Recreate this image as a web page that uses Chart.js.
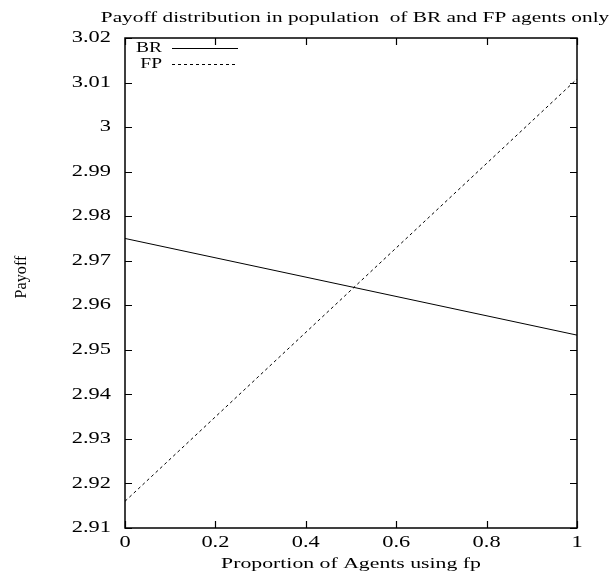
<!DOCTYPE html>
<html>
<head>
<meta charset="utf-8">
<script src="https://cdn.jsdelivr.net/npm/chart.js@4/dist/chart.umd.min.js"></script>
<style>
  html, body { margin: 0; padding: 0; background: #fff; }
  #wrap { width: 614px; height: 572px; position: relative; }
</style>
</head>
<body>
<div id="wrap"><canvas id="c" width="614" height="572"></canvas></div>
<script>
const chartTitle = 'Payoff distribution in population  of BR and FP agents only';
const xAxisTitle = 'Proportion of Agents using fp';
const yAxisTitle = 'Payoff';
const seriesNames = ['BR', 'FP'];
const xValues = [0, 1];
const brValues = [2.975, 2.9533];
const fpValues = [2.916, 3.0108];
const xTickValues = [0, 0.2, 0.4, 0.6, 0.8, 1];
const xTickLabels = ['0', '0.2', '0.4', '0.6', '0.8', '1'];
const yTickValues = [2.91, 2.92, 2.93, 2.94, 2.95, 2.96, 2.97, 2.98, 2.99, 3.00, 3.01, 3.02];
const yTickLabels = ['2.91', '2.92', '2.93', '2.94', '2.95', '2.96', '2.97', '2.98', '2.99', '3', '3.01', '3.02'];

const FONT = "'Liberation Serif'";
const SX = 1.4; // horizontal stretch of the reference's lettering
Chart.defaults.font.family = FONT;
Chart.defaults.color = '#000';

function labelFor(values, labels, v) {
  let best = 0, bd = Infinity;
  values.forEach((t, i) => { const d = Math.abs(t - v); if (d < bd) { bd = d; best = i; } });
  return labels[best];
}

function drawText(ctx, text, x, y, size, sx, align, rot) {
  ctx.save();
  ctx.translate(x, y);
  if (rot) ctx.rotate(rot);
  ctx.scale(sx, 1);
  ctx.font = size + 'px ' + FONT;
  ctx.textAlign = align || 'center';
  ctx.textBaseline = 'middle';
  ctx.fillStyle = '#000';
  ctx.fillText(text, 0, 0);
  ctx.restore();
}

const framePlugin = {
  id: 'frame',
  afterDatasetsDraw(chart) {
    const ctx = chart.ctx;
    const { left, right, top, bottom } = chart.chartArea;
    const xs = chart.scales.x, ys = chart.scales.y;
    ctx.save();
    ctx.strokeStyle = '#000';
    ctx.lineWidth = 1.5;
    ctx.strokeRect(left, top, right - left, bottom - top);
    ctx.lineWidth = 1.2;
    const tl = 7;
    ctx.beginPath();
    xs.ticks.forEach(t => {
      const px = Math.round(xs.getPixelForValue(t.value)) + 0.5;
      ctx.moveTo(px, bottom); ctx.lineTo(px, bottom - tl);
      ctx.moveTo(px, top); ctx.lineTo(px, top + tl);
    });
    ys.ticks.forEach(t => {
      const py = Math.round(ys.getPixelForValue(t.value)) + 0.5;
      ctx.moveTo(left, py); ctx.lineTo(left + tl, py);
      ctx.moveTo(right, py); ctx.lineTo(right - tl, py);
    });
    ctx.stroke();
    ctx.restore();

    // tick labels, placed by the scales
    xs.ticks.forEach(t => {
      drawText(ctx, labelFor(xTickValues, xTickLabels, t.value), xs.getPixelForValue(t.value), bottom + 15, 16, SX, 'center');
    });
    ys.ticks.forEach(t => {
      drawText(ctx, labelFor(yTickValues, yTickLabels, t.value), left - 14, ys.getPixelForValue(t.value), 16, SX, 'right');
    });

    // legend (gnuplot style)
    chart.data.datasets.forEach((ds, i) => {
      const ty = top + 10 + i * 16;
      drawText(ctx, ds.label, left + 37, ty, 15, 1.3, 'right');
      ctx.save();
      ctx.strokeStyle = ds.borderColor;
      ctx.lineWidth = 1;
      ctx.setLineDash(ds.borderDash || []);
      ctx.beginPath();
      ctx.moveTo(left + 47, ty + 0.5);
      ctx.lineTo(left + 113, ty + 0.5);
      ctx.stroke();
      ctx.restore();
    });

    drawText(ctx, chartTitle, (left + right) / 2 + 4, 18, 15, 1.42, 'center');
    drawText(ctx, xAxisTitle, (left + right) / 2, 564, 15, 1.45, 'center');
    drawText(ctx, yAxisTitle, 22, (top + bottom) / 2 - 6, 17, 0.95, 'center', -Math.PI / 2);
  }
};

function build() {
  new Chart(document.getElementById('c'), {
    type: 'line',
    data: {
      datasets: [
        {
          label: seriesNames[0],
          data: xValues.map((x, i) => ({ x: x, y: brValues[i] })),
          borderColor: '#000',
          borderWidth: 1,
          pointRadius: 0,
          fill: false,
          tension: 0
        },
        {
          label: seriesNames[1],
          data: xValues.map((x, i) => ({ x: x, y: fpValues[i] })),
          borderColor: '#000',
          borderWidth: 1,
          borderDash: [3, 3],
          pointRadius: 0,
          fill: false,
          tension: 0
        }
      ]
    },
    options: {
      responsive: false,
      animation: false,
      devicePixelRatio: 1,
      layout: { padding: { top: 38, right: 37, bottom: 0, left: 0 } },
      plugins: { legend: { display: false }, title: { display: false }, tooltip: { enabled: false } },
      scales: {
        x: {
          type: 'linear',
          min: 0, max: 1,
          afterBuildTicks(s) { s.ticks = xTickValues.map(v => ({ value: v })); },
          afterFit(s) { s.height = 44; },
          grid: { display: false, drawTicks: false },
          border: { display: false },
          ticks: { display: false }
        },
        y: {
          type: 'linear',
          min: 2.91, max: 3.02,
          afterBuildTicks(s) { s.ticks = yTickValues.map(v => ({ value: v })); },
          afterFit(s) { s.width = 125; },
          grid: { display: false, drawTicks: false },
          border: { display: false },
          ticks: { display: false }
        }
      }
    },
    plugins: [framePlugin]
  });
}

if (document.fonts && document.fonts.load) {
  document.fonts.load("17px 'Liberation Serif'").then(build, build);
} else {
  build();
}
</script>
</body>
</html>
